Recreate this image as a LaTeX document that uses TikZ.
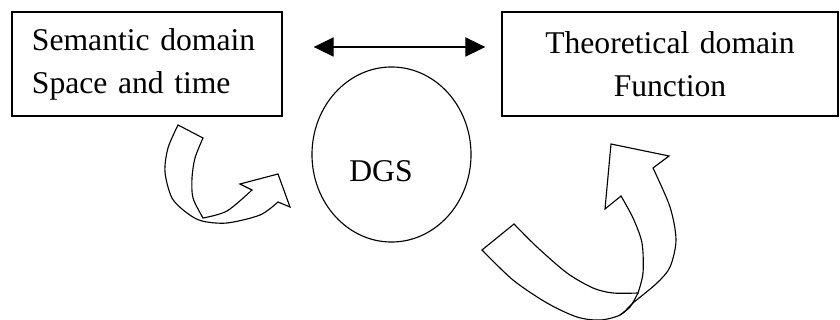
\documentclass[tikz,border=0pt]{standalone}
\usepackage{fontspec}
\setmainfont{Liberation Serif}
\usetikzlibrary{arrows.meta,shapes.geometric}

\begin{document}
\begin{tikzpicture}[x=0.025cm,y=-0.025cm,
    domainbox/.style={draw,line width=0.9pt,minimum height=2.6cm,inner ysep=0pt,
      font=\fontsize{22.5}{30.5}\selectfont},
    blockarrow/.style={draw,line width=0.8pt,line join=miter,fill=white}]
  \useasboundingbox (0,0) rectangle (840,320);
  % the two domains
  \node[domainbox,text width=5.75cm,inner xsep=0.5cm,align=left] (sem) at (147,64)
    {Semantic domain\\Space and time};
  \node[domainbox,text width=8cm,inner xsep=0.2cm,align=center] (theo) at (670,64)
    {Theoretical domain\\Function};
  \draw[line width=0.8pt,{Triangle[length=0.5cm,width=0.48cm]}-{Triangle[length=0.5cm,width=0.48cm]},
        shorten <=0.775cm,shorten >=0.4cm]
    ([yshift=0.425cm]sem.east) -- ([yshift=0.425cm]theo.west);
  % the DGS in the middle
  \node[draw,line width=0.8pt,ellipse,minimum width=3.975cm,minimum height=4.375cm] (dgs) at (391.5,154.5) {};
  \node[anchor=base,font=\fontsize{22.5}{30.5}\selectfont] (dgslabel) at (381,181.5) {DGS};
  % curved arrow on the left
  \draw[blockarrow] plot[smooth] coordinates {(178,125) (168,148) (165,172) (172,198) (187,213) (202,221) (227,223) (260,215) (278,202)}
    -- (290,207) -- (278,174) -- (240,184) -- (252,190)
    -- plot[smooth] coordinates {(252,190) (227,211) (203,218)}
    -- plot[smooth] coordinates {(203,218) (193,198) (192,178) (195,158) (203,138)}
    -- cycle;
  % curved arrow on the right
  \draw[blockarrow] plot[smooth] coordinates {(482,250) (513,280) (547,303) (577,317) (600,320) (620,315) (633,303) (657,283) (670,267) (676,240) (670,207) (653,168)}
    -- (669,156) -- (611,144) -- (605,209) -- (621,196)
    -- plot[smooth] coordinates {(621,196) (633,218) (642,243) (643,273) (638,293)}
    -- plot[smooth] coordinates {(638,293) (613,293) (593,288) (567,273) (537,247) (514,224)}
    -- cycle;
  \draw[line width=0.8pt] plot[smooth] coordinates {(638,293) (630,307) (620,315)};
\end{tikzpicture}
\end{document}
